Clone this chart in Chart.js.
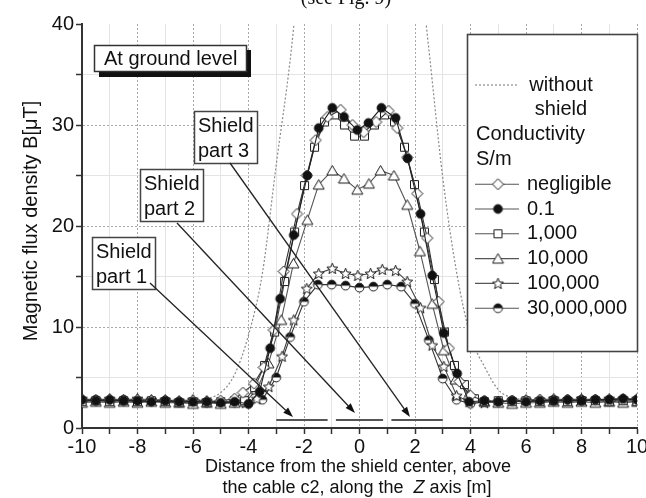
<!DOCTYPE html>
<html>
<head>
<meta charset="utf-8">
<script src="https://cdn.jsdelivr.net/npm/chart.js@4.4.1/dist/chart.umd.min.js"></script>
<style>
html, body { margin: 0; padding: 0; background: #fff; }
#wrap { width: 646px; height: 498px; }
</style>
</head>
<body>
<div id="wrap"><canvas id="mycanvas" width="646" height="498"></canvas></div>
<script>
// tick labels
var xTickLabels = [-10, -8, -6, -4, -2, 0, 2, 4, 6, 8, 10];
var yTickLabels = [0, 10, 20, 30, 40];

// flat parts, far from the shield
var xFlatLeft = [-10, -9.5, -9, -8.5, -8, -7.5, -7, -6.5, -6, -5.5, -5, -4.5];
var xFlatRight = [4.5, 5, 5.5, 6, 6.5, 7, 7.5, 8, 8.5, 9, 9.5, 10];

// without shield (dotted)
var noShieldX = [-10, -9.5, -9, -8.5, -8, -7.5, -7, -6.5, -6, -5.5, -5, -4.5, -4, -3.5, -3, -2.5, -2, -1.5, -1, -0.5, 0, 0.5, 1, 1.5, 2, 2.5, 3, 3.5, 4, 4.5, 5, 5.5, 6, 6.5, 7, 7.5, 8, 8.5, 9, 9.5, 10];
var noShieldY = [2.7, 2.7, 2.7, 2.7, 2.7, 2.7, 2.7, 2.7, 2.75, 2.9, 3.5, 5.3, 9.2, 15.3, 26.1, 36.4, 50, 62, 72, 78, 80, 78, 72, 62, 50, 37.5, 24.8, 15.4, 9.1, 6.1, 3.8, 3.0, 2.8, 2.7, 2.7, 2.7, 2.7, 2.7, 2.7, 2.7, 2.7];

// negligible
var neglLeft = [2.8, 2.7, 2.8, 2.7, 2.8, 2.7, 2.7, 2.6, 2.7, 2.6, 2.7, 2.9];
var neglX = [-4.2, -3.8, -3.45, -3.09, -2.73, -2.25, -1.9, -1.58, -1.15, -0.68, -0.25, 0.15, 0.6, 1.05, 1.36, 1.72, 2.08, 2.44, 2.85, 3.22, 3.6, 4.0];
var neglY = [3.5, 4.4, 6.0, 9.7, 15.5, 21.2, 25.0, 28.5, 30.8, 31.5, 30.0, 29.3, 30.3, 31.4, 29.7, 26.8, 23.2, 18.8, 12.5, 7.9, 4.6, 3.2];
var neglRight = [2.7, 2.6, 2.7, 2.7, 2.8, 2.7, 2.8, 2.7, 2.8, 2.7, 2.8, 2.8];

// 0.1 S/m
var c01Left = [2.8, 2.7, 2.8, 2.7, 2.7, 2.6, 2.7, 2.6, 2.6, 2.6, 2.5, 2.6];
var c01X = [-4.0, -3.6, -3.22, -2.86, -2.37, -1.88, -1.47, -0.98, -0.56, -0.08, 0.32, 0.79, 1.3, 1.73, 2.2, 2.62, 3.04, 3.52, 3.95];
var c01Y = [2.4, 3.6, 7.9, 12.8, 19.1, 25.0, 29.7, 31.7, 30.8, 29.5, 30.2, 31.7, 30.7, 26.7, 21.2, 15.1, 9.4, 5.4, 2.6];
var c01Right = [2.7, 2.6, 2.7, 2.6, 2.7, 2.7, 2.8, 2.7, 2.8, 2.8, 2.9, 2.8];

// 1,000 S/m
var c1kLeft = [2.6, 2.7, 2.6, 2.7, 2.6, 2.7, 2.6, 2.5, 2.6, 2.5, 2.6, 2.7];
var c1kX = [-4.14, -3.78, -3.42, -3.06, -2.7, -2.34, -1.98, -1.62, -1.26, -0.9, -0.54, -0.18, 0.18, 0.54, 0.9, 1.26, 1.62, 1.98, 2.34, 2.7, 3.06, 3.42, 3.78, 4.14];
var c1kY = [2.7, 4.0, 6.2, 9.5, 14.5, 19.4, 24.0, 27.8, 30.3, 31.0, 30.0, 28.9, 28.9, 30.0, 31.0, 30.3, 27.8, 24.1, 19.4, 14.7, 9.5, 6.2, 4.3, 2.9];
var c1kRight = [2.6, 2.7, 2.6, 2.7, 2.6, 2.7, 2.6, 2.7, 2.7, 2.6, 2.7, 2.6];

// 10,000 S/m
var c10kLeft = [2.5, 2.6, 2.5, 2.6, 2.5, 2.6, 2.5, 2.5, 2.4, 2.5, 2.4, 2.5];
var c10kX = [-4.1, -3.7, -3.28, -2.82, -2.38, -1.88, -1.47, -0.98, -0.56, -0.08, 0.34, 0.76, 1.24, 1.72, 2.18, 2.62, 3.04, 3.46, 3.94];
var c10kY = [2.6, 3.8, 6.4, 10.7, 16.3, 20.6, 24.1, 25.5, 24.7, 23.6, 24.2, 25.5, 25.0, 22.1, 17.5, 12.3, 7.7, 4.8, 3.3];
var c10kRight = [2.6, 2.5, 2.4, 2.5, 2.5, 2.6, 2.5, 2.6, 2.5, 2.6, 2.5, 2.6];

// 100,000 S/m
var c100kLeft = [2.9, 2.8, 2.9, 2.8, 2.9, 2.8, 2.8, 2.7, 2.8, 2.7, 2.6, 2.6];
var c100kX = [-4.1, -3.7, -3.27, -2.79, -2.37, -1.9, -1.47, -0.98, -0.5, -0.06, 0.4, 0.82, 1.3, 1.72, 2.2, 2.62, 3.04, 3.5, 3.95];
var c100kY = [2.5, 2.9, 4.1, 7.1, 10.7, 13.8, 15.3, 15.8, 15.3, 15.1, 15.3, 15.7, 15.6, 14.5, 11.9, 8.2, 6.1, 3.2, 2.6];
var c100kRight = [2.5, 2.6, 2.7, 2.8, 2.8, 2.9, 2.8, 2.9, 2.8, 2.9, 2.9, 2.9];

// 30,000,000 S/m
var c30mLeft = [2.7, 2.8, 2.7, 2.8, 2.7, 2.7, 2.7, 2.6, 2.6, 2.5, 2.5, 2.5];
var c30mX = [-4, -3.5, -3, -2.5, -2, -1.5, -1, -0.5, 0, 0.5, 1, 1.5, 2, 2.5, 3, 3.5, 4];
var c30mY = [2.4, 2.8, 5.0, 9.0, 12.5, 14.2, 14.2, 14.1, 13.9, 14.0, 14.2, 14.0, 12.3, 8.7, 4.9, 2.8, 2.4];
var c30mRight = [2.6, 2.6, 2.7, 2.7, 2.7, 2.8, 2.7, 2.8, 2.8, 2.8, 2.8, 2.8];

// shield parts along the axis
var shieldX = [-3, -1.15, -1, -0.85, 0.85, 1, 1.15, 3];
var shieldY = [0.8, 0.8, null, 0.8, 0.8, null, 0.8, 0.8];

var seriesNames = ['negligible', '0.1', '1,000', '10,000', '100,000', '30,000,000'];

function pts(xs, ys) {
  var out = [];
  for (var i = 0; i < xs.length; i++) out.push({x: xs[i], y: ys[i]});
  return out;
}
function series(left, cx, cy, right) {
  return pts(xFlatLeft, left).concat(pts(cx, cy), pts(xFlatRight, right));
}

// marker images
function marker(draw) {
  var c = document.createElement('canvas');
  c.width = 13; c.height = 13;
  var g = c.getContext('2d');
  g.lineWidth = 1; g.strokeStyle = '#1a1a1a'; g.fillStyle = '#fff';
  draw(g);
  return c;
}
var mkDiamond = marker(function(g){
  g.beginPath(); g.moveTo(6.5, 1); g.lineTo(12, 6.5); g.lineTo(6.5, 12); g.lineTo(1, 6.5); g.closePath();
  g.fill(); g.stroke();
});
var mkDot = marker(function(g){
  g.beginPath(); g.arc(6.5, 6.5, 4.4, 0, Math.PI * 2);
  g.fillStyle = '#111'; g.fill(); g.stroke();
});
var mkSquare = marker(function(g){
  g.beginPath(); g.rect(2.5, 2.5, 8, 8); g.fill(); g.stroke();
});
var mkTriangle = marker(function(g){
  g.beginPath(); g.moveTo(6.5, 1.5); g.lineTo(12, 11); g.lineTo(1, 11); g.closePath();
  g.fill(); g.stroke();
});
var mkStar = marker(function(g){
  g.beginPath();
  for (var k = 0; k < 10; k++) {
    var r = k % 2 ? 2.5 : 5.8;
    var a = -Math.PI / 2 + k * Math.PI / 5;
    var px = 6.5 + r * Math.cos(a), py = 7 + r * Math.sin(a);
    if (k === 0) g.moveTo(px, py); else g.lineTo(px, py);
  }
  g.closePath(); g.fill(); g.stroke();
});
var mkHalf = marker(function(g){
  g.beginPath(); g.arc(6.5, 6.5, 4.4, 0, Math.PI * 2); g.fill();
  g.beginPath(); g.arc(6.5, 6.5, 4.4, Math.PI, Math.PI * 2); g.closePath();
  g.fillStyle = '#111'; g.fill();
  g.beginPath(); g.arc(6.5, 6.5, 4.4, 0, Math.PI * 2); g.stroke();
});
var markers = [mkDiamond, mkDot, mkSquare, mkTriangle, mkStar, mkHalf];

var FONT = '"Liberation Sans", Arial, sans-serif';
Chart.defaults.font.family = FONT;

function line(label, data, mk, color) {
  return {
    label: label, data: data, borderColor: color, borderWidth: 1.1,
    pointStyle: mk, pointRadius: 5, pointHoverRadius: 5, fill: false, tension: 0
  };
}

var decorations = {
  id: 'decorations',
  afterDraw: function(chart) {
    var ctx = chart.ctx;
    ctx.save();
    ctx.fillStyle = '#111';
    ctx.strokeStyle = '#222';

    // cut caption at the very top
    ctx.font = '20px "Liberation Serif", "Times New Roman", serif';
    ctx.textAlign = 'center'; ctx.textBaseline = 'alphabetic';
    ctx.fillText('(see Fig. 9)', 346, 4);

    // y axis title
    ctx.save();
    ctx.translate(31, 221);
    ctx.rotate(-Math.PI / 2);
    ctx.font = '20px ' + FONT;
    ctx.textAlign = 'center';
    ctx.textBaseline = 'middle';
    ctx.fillText('Magnetic flux density B[\u03bcT]', 0, 0);
    ctx.restore();

    // x axis title, two lines, italic Z
    ctx.font = '18px ' + FONT;
    ctx.textAlign = 'center';
    ctx.textBaseline = 'middle';
    ctx.fillText('Distance from the shield center, above', 358, 467);
    var a = 'the cable c2, along the  ', b = 'Z', c = ' axis [m]';
    var wa = ctx.measureText(a).width, wc = ctx.measureText(c).width;
    ctx.font = 'italic 18px ' + FONT;
    var wb = ctx.measureText(b).width;
    var x0 = 357 - (wa + wb + wc) / 2;
    ctx.textAlign = 'left';
    ctx.font = '18px ' + FONT;
    ctx.fillText(a, x0, 488);
    ctx.font = 'italic 18px ' + FONT;
    ctx.fillText(b, x0 + wa, 488);
    ctx.font = '18px ' + FONT;
    ctx.fillText(c, x0 + wa + wb, 488);

    // "At ground level" box with shadow
    ctx.fillStyle = '#111';
    ctx.fillRect(99, 50, 152, 27);
    ctx.fillStyle = '#fff';
    ctx.fillRect(94.5, 45.5, 152, 26);
    ctx.lineWidth = 1.5; ctx.strokeStyle = '#333';
    ctx.strokeRect(94.5, 45.5, 152, 26);
    ctx.fillStyle = '#111';
    ctx.font = '20px ' + FONT;
    ctx.textAlign = 'left'; ctx.textBaseline = 'middle';
    ctx.fillText('At ground level', 104, 59);

    // shield labels
    var boxes = [
      {x: 92, y: 237, t: 'part 1'},
      {x: 140, y: 169, t: 'part 2'},
      {x: 194, y: 111, t: 'part 3'}
    ];
    boxes.forEach(function(bx){
      ctx.fillStyle = '#fff';
      ctx.fillRect(bx.x + 0.5, bx.y + 0.5, 63, 52);
      ctx.strokeStyle = '#444'; ctx.lineWidth = 1.5;
      ctx.strokeRect(bx.x + 0.5, bx.y + 0.5, 63, 52);
      ctx.fillStyle = '#111';
      ctx.fillText('Shield', bx.x + 4, bx.y + 15);
      ctx.fillText(bx.t, bx.x + 4, bx.y + 40);
    });

    // arrows
    var arrows = [
      [150, 283, 293, 417],
      [177, 223, 355, 413],
      [230, 163, 410, 417]
    ];
    arrows.forEach(function(ar){
      var ang = Math.atan2(ar[3] - ar[1], ar[2] - ar[0]);
      var hl = 10, hw = 3.5;
      var bxp = ar[2] - hl * Math.cos(ang), byp = ar[3] - hl * Math.sin(ang);
      ctx.strokeStyle = '#222'; ctx.lineWidth = 1.3;
      ctx.beginPath(); ctx.moveTo(ar[0], ar[1]); ctx.lineTo(bxp, byp); ctx.stroke();
      ctx.fillStyle = '#111';
      ctx.beginPath();
      ctx.moveTo(ar[2], ar[3]);
      ctx.lineTo(bxp + hw * Math.sin(ang), byp - hw * Math.cos(ang));
      ctx.lineTo(bxp - hw * Math.sin(ang), byp + hw * Math.cos(ang));
      ctx.closePath(); ctx.fill();
    });

    // legend
    ctx.fillStyle = '#fff';
    ctx.fillRect(467.5, 34.5, 170, 317);
    ctx.strokeStyle = '#444'; ctx.lineWidth = 1.6;
    ctx.strokeRect(467.5, 34.5, 170, 317);
    ctx.fillStyle = '#111';
    ctx.font = '20px ' + FONT;
    var row = function(k){ return 85 + k * 24.8; };
    ctx.strokeStyle = '#777'; ctx.lineWidth = 1.2; ctx.setLineDash([2, 2]);
    ctx.beginPath(); ctx.moveTo(475, row(0)); ctx.lineTo(519, row(0)); ctx.stroke();
    ctx.setLineDash([]);
    ctx.textAlign = 'center';
    ctx.fillText('without', 561, row(0));
    ctx.fillText('shield', 561, row(1));
    ctx.textAlign = 'left';
    ctx.fillText('Conductivity', 476, row(2));
    ctx.fillText('S/m', 476, row(3));
    for (var i = 0; i < seriesNames.length; i++) {
      var yy = row(4 + i);
      ctx.strokeStyle = '#555'; ctx.lineWidth = 1.1;
      ctx.beginPath(); ctx.moveTo(475, yy); ctx.lineTo(519, yy); ctx.stroke();
      var m = markers[i];
      ctx.drawImage(m, 498 - m.width / 2, yy - m.height / 2);
      ctx.fillText(seriesNames[i], 527, yy);
    }
    ctx.restore();
  }
};

function isMajorX(c) { return c.tick && Math.abs(c.tick.value % 2) < 1e-9; }
function isMajorY(c) { return c.tick && Math.abs(c.tick.value % 10) < 1e-9; }

new Chart(document.getElementById('mycanvas'), {
  type: 'line',
  data: {
    datasets: [
      line('0.1', series(c01Left, c01X, c01Y, c01Right), mkDot, '#222'),
      line('negligible', series(neglLeft, neglX, neglY, neglRight), mkDiamond, '#333'),
      line('1,000', series(c1kLeft, c1kX, c1kY, c1kRight), mkSquare, '#444'),
      line('10,000', series(c10kLeft, c10kX, c10kY, c10kRight), mkTriangle, '#555'),
      line('100,000', series(c100kLeft, c100kX, c100kY, c100kRight), mkStar, '#444'),
      line('30,000,000', series(c30mLeft, c30mX, c30mY, c30mRight), mkHalf, '#333'),
      {
        label: 'shield', data: pts(shieldX, shieldY), borderColor: '#555', borderWidth: 2,
        pointRadius: 0, spanGaps: false, fill: false
      },
      {
        label: 'without shield', data: pts(noShieldX, noShieldY), borderColor: '#888',
        borderWidth: 1.2, borderDash: [2, 2], pointRadius: 0, fill: false,
        cubicInterpolationMode: 'monotone'
      }
    ]
  },
  options: {
    responsive: false,
    animation: false,
    devicePixelRatio: 1,
    layout: { padding: { top: 24, right: 9, left: 0, bottom: 0 } },
    plugins: { legend: { display: false }, tooltip: { enabled: false } },
    scales: {
      x: {
        type: 'linear', min: -10, max: 10,
        afterFit: function(s) { s.height = 70; s.paddingLeft = 0; s.paddingRight = 0; },
        ticks: {
          stepSize: 1, autoSkip: false, maxRotation: 0, padding: 1,
          color: '#111', font: { size: 20 },
          callback: function(v) { return xTickLabels.indexOf(v) >= 0 ? String(v) : ''; }
        },
        grid: {
          color: function(c) { return isMajorX(c) ? '#a8a8a8' : '#e4e4e4'; },
          lineWidth: 1, tickColor: '#333', tickLength: 6, tickWidth: 1.5
        },
        border: { color: '#333', width: 2, dash: function(c) { return isMajorX(c) ? [2, 2] : []; } }
      },
      y: {
        min: 0, max: 40,
        afterFit: function(s) { s.width = 82; },
        ticks: {
          stepSize: 5, padding: 2, color: '#111', font: { size: 20 },
          callback: function(v) { return yTickLabels.indexOf(v) >= 0 ? String(v) : ''; }
        },
        grid: {
          color: function(c) {
            if (c.tick && c.tick.value >= 40) return 'rgba(0,0,0,0)';
            return isMajorY(c) ? '#a8a8a8' : '#e4e4e4';
          },
          lineWidth: 1, tickColor: '#333', tickLength: 6, tickWidth: 1.5
        },
        border: { color: '#333', width: 2, dash: function(c) { return isMajorY(c) ? [2, 2] : []; } }
      }
    }
  },
  plugins: [decorations]
});
</script>
</body>
</html>
